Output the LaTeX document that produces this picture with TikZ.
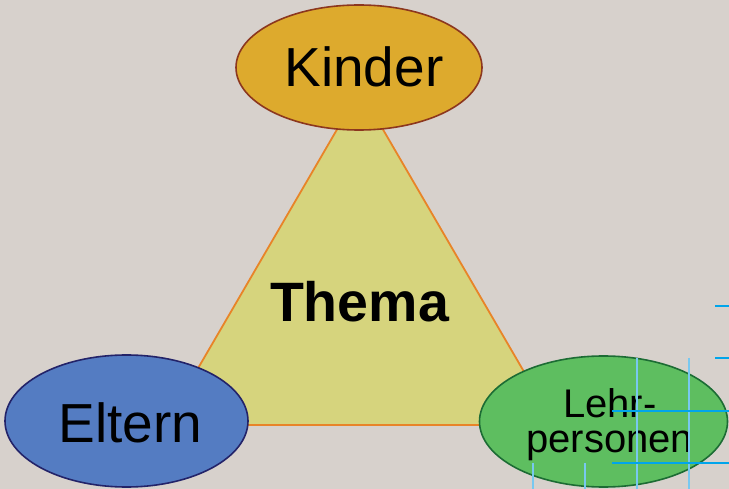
\documentclass[tikz,border=0pt]{standalone}
\usepackage{fontspec}
\setmainfont{Liberation Sans}
\usetikzlibrary{shapes.geometric}
\definecolor{bgc}{RGB}{215,209,204}
\definecolor{trifill}{RGB}{214,212,125}
\definecolor{triline}{RGB}{232,132,40}
\definecolor{kfill}{RGB}{221,170,45}
\definecolor{kline}{RGB}{140,55,30}
\definecolor{efill}{RGB}{84,124,194}
\definecolor{eline}{RGB}{35,35,105}
\definecolor{lfill}{RGB}{94,190,96}
\definecolor{lline}{RGB}{28,108,52}
\definecolor{guideh}{RGB}{0,165,235}
\definecolor{guidev}{RGB}{120,200,240}
\begin{document}
\begin{tikzpicture}[x=1pt,y=-1pt,
  blob/.style={ellipse,inner sep=0pt,line width=1.6pt},
  lbl/.style={inner sep=0pt,anchor=base,text=black},
  guidehs/.style={draw=guideh,line width=1.2pt},
  guidevs/.style={draw=guidev,line width=1.1pt}]
\fill[bgc] (0,0) rectangle (729,489);
\useasboundingbox (0,0) rectangle (729,489);
% triangle
\coordinate (ta) at (360,90);
\coordinate (tl) at (165,425);
\coordinate (tr) at (555,425);
\filldraw[fill=trifill,draw=triline,line width=1.8pt,line join=miter] (ta) -- (tl) -- (tr) -- cycle;
% ellipses
\node[blob,fill=kfill,draw=kline,minimum width=246pt,minimum height=125pt] (kinder) at (359,67.5) {};
\node[blob,fill=efill,draw=eline,minimum width=243pt,minimum height=132pt] (eltern) at (126.5,421) {};
\node[blob,fill=lfill,draw=lline,minimum width=248pt,minimum height=131pt] (lehr) at (603.5,421.5) {};
% labels
\node[lbl,font=\fontsize{55}{60}\selectfont] (tk) at (364,87) {Kinder};
\node[lbl,font=\fontsize{55}{60}\selectfont] (te) at (130.5,442) {Eltern};
\node[lbl,font=\bfseries\fontsize{55.5}{60}\selectfont] (tt) at (359.5,322) {Thema};
\node[lbl,align=center,font=\fontsize{40}{35}\selectfont] (tlp) at (609.8,452) {Lehr-\\personen};
% guide lines
\coordinate (g1a) at (715,306); \coordinate (g1b) at (729,306);
\coordinate (g2a) at (715,358); \coordinate (g2b) at (729,358);
\coordinate (g3a) at (612,411); \coordinate (g3b) at (729,411);
\coordinate (g4a) at (612,463); \coordinate (g4b) at (729,463);
\coordinate (v1a) at (637,358); \coordinate (v1b) at (637,489);
\coordinate (v2a) at (689,358); \coordinate (v2b) at (689,489);
\coordinate (v3a) at (533,463); \coordinate (v3b) at (533,489);
\coordinate (v4a) at (585,463); \coordinate (v4b) at (585,489);
\draw[guidevs] (v1a) -- (v1b);
\draw[guidevs] (v2a) -- (v2b);
\draw[guidevs] (v3a) -- (v3b);
\draw[guidevs] (v4a) -- (v4b);
\draw[guidehs] (g1a) -- (g1b);
\draw[guidehs] (g2a) -- (g2b);
\draw[guidehs] (g3a) -- (g3b);
\draw[guidehs] (g4a) -- (g4b);
\end{tikzpicture}
\end{document}
